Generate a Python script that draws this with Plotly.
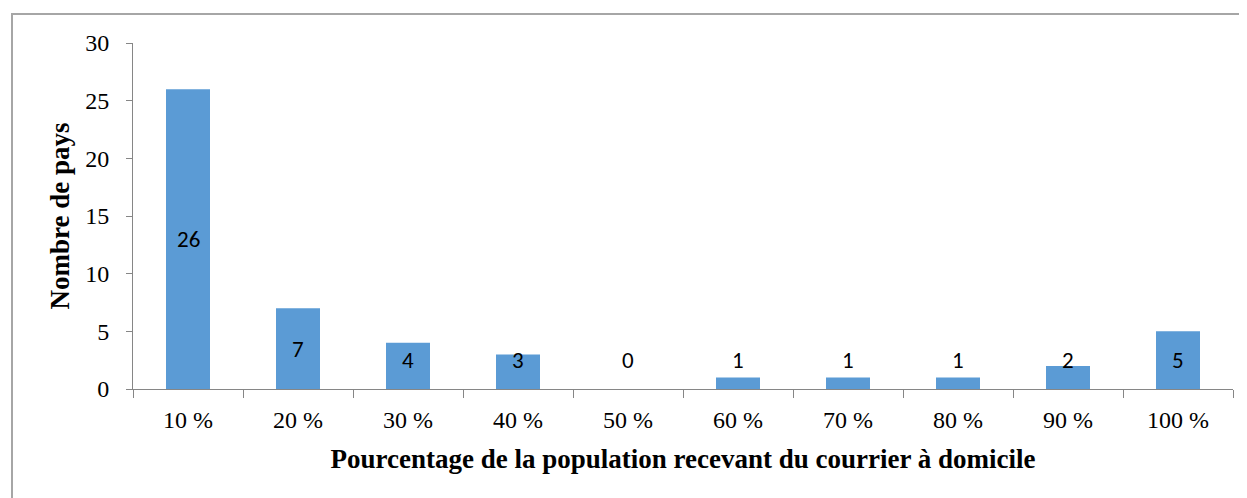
import plotly.graph_objects as go

# ── Data ──────────────────────────────────────────────────────────────────────
categories = ["10 %", "20 %", "30 %", "40 %", "50 %", "60 %", "70 %", "80 %", "90 %", "100 %"]
pays = [26, 7, 4, 3, 0, 1, 1, 1, 2, 5]
y_ticks = [0, 5, 10, 15, 20, 25, 30]

BAR = "#5B9BD5"
AXIS = "#868686"
SERIF = "Liberation Serif, Times New Roman, serif"

fig = go.Figure(
    go.Bar(
        x=categories,
        y=pays,
        marker={"color": BAR, "line": {"width": 0}},
        hoverinfo="x+y",
    )
)

# data labels: centred in the bar, but never lower than half-way up a short bar
for cat, v in zip(categories, pays):
    fig.add_annotation(
        x=cat,
        y=max(v / 2, 2.5),
        text=str(v),
        showarrow=False,
        yanchor="middle",
        font={"family": "Carlito, Lato, sans-serif", "size": 23, "color": "black"},
    )

# outer chart border
fig.add_shape(
    type="rect",
    xref="paper",
    yref="paper",
    x0=-0.11,
    x1=1.05,
    y0=-0.5,
    y1=1.084,
    line={"color": "#A6A6A6", "width": 2},
    layer="below",
)

# the page body adds an 8px offset, so the figure is sized to fit inside it
fig.update_layout(
    width=1239,
    height=490,
    margin={"l": 125, "r": 14, "t": 35, "b": 109},
    plot_bgcolor="white",
    paper_bgcolor="white",
    bargap=0.6,
    showlegend=False,
    font={"family": SERIF, "color": "black"},
)
fig.update_xaxes(
    type="category",
    tickson="boundaries",
    ticks="outside",
    ticklen=8,
    tickcolor=AXIS,
    showline=True,
    linecolor=AXIS,
    linewidth=1,
    showgrid=False,
    tickfont={"family": SERIF, "size": 24},
    ticklabelstandoff=9,
    title={
        "text": "<b>Pourcentage de la population recevant du courrier à domicile</b>",
        "font": {"family": SERIF, "size": 27},
        "standoff": 17,
    },
)
fig.update_yaxes(
    range=[0, 30],
    tickvals=y_ticks,
    ticks="outside",
    ticklen=6,
    tickcolor=AXIS,
    showline=True,
    linecolor=AXIS,
    linewidth=1,
    showgrid=False,
    zeroline=False,
    tickfont={"family": SERIF, "size": 24},
    ticklabelstandoff=12,
    title={
        "text": "<b>Nombre de pays</b>",
        "font": {"family": SERIF, "size": 27},
        "standoff": 7,
    },
)

fig.write_html("out.html")
